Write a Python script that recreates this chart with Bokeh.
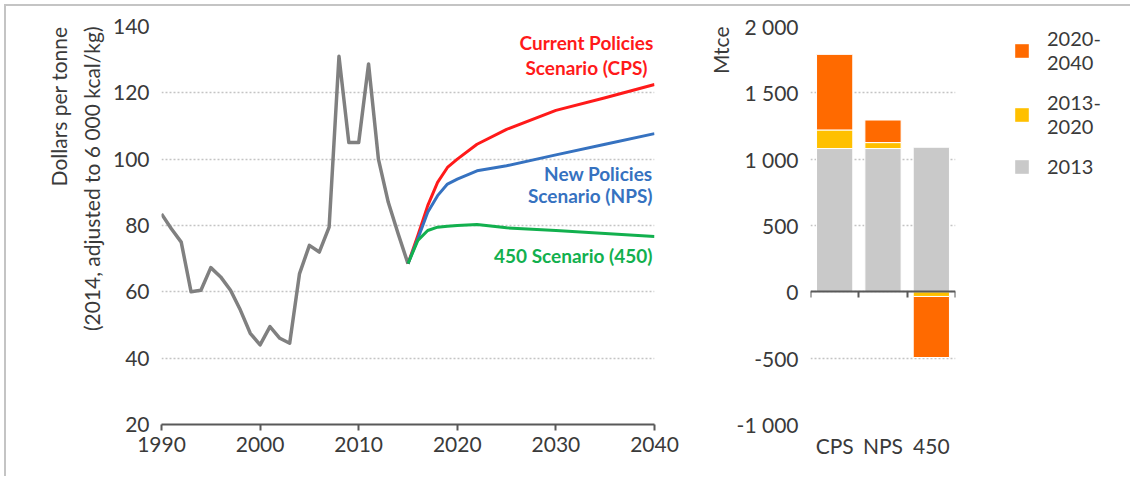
from bokeh.plotting import figure
from bokeh.models import Range1d, FixedTicker, LinearAxis, Label, Legend, LegendItem, ColumnDataSource, Title
from bokeh.layouts import row
from bokeh.embed import file_html
from bokeh.resources import INLINE

# ---------------- data ----------------
hist_years = list(range(1990, 2016))
hist_price = [83.5, 79, 75, 60, 60.5, 67.3, 64.5, 60.5, 54.5, 47.5, 44, 49.5, 46, 44.5,
              65.5, 74, 72, 79.5, 131, 105, 105, 128.7, 100, 87, 77.5, 68.5]

scen_years = [2015, 2016, 2017, 2018, 2019, 2020, 2022, 2025, 2030, 2035, 2040]
cps_price = [68.5, 77, 86, 93, 97.5, 100, 104.5, 109, 114.7, 118.5, 122.5]
nps_price = [68.5, 76, 84, 89, 92.5, 94, 96.5, 98, 101.3, 104.5, 107.7]
s450_price = [68.5, 75.5, 78.5, 79.5, 79.8, 80, 80.3, 79.3, 78.5, 77.6, 76.7]

x_ticks_left = [1990, 2000, 2010, 2020, 2030, 2040]
y_ticks_left = [20, 40, 60, 80, 100, 120, 140]
y_title_left = ["Dollars per tonne", "(2014, adjusted to 6 000 kcal/kg)"]

bar_cats = ["CPS", "NPS", "450"]
demand_2013 = [1080, 1080, 1090]
chg_2013_2020 = [140, 45, -35]
chg_2020_2040 = [570, 170, -460]

y_ticks_right = [-1000, -500, 0, 500, 1000, 1500, 2000]
y_tick_labels_right = ["-1 000", "-500", "0", "500", "1 000", "1 500", "2 000"]
y_title_right = "Mtce"

legend_labels = ["2020-\n2040", "2013-\n2020", "2013"]

FONT = "Lato"
TXT = "#3a3a3a"
AXIS = "#595959"
GRID = "#c4c4c4"
C_GRAY_LINE = "#808080"
C_CPS = "#ff1a1a"
C_NPS = "#3672c0"
C_450 = "#12b04e"
C_OR = "#ff6a00"
C_YE = "#ffc000"
C_GR = "#c9c9c9"
TICK_SIZE = "21px"
OFF = 6  # offset of the content caused by the framing border


def side_title(p, text, standoff):
    p.add_layout(Title(text=text, align="right", text_font=FONT, text_font_size="21px",
                       text_font_style="normal", text_color=TXT, standoff=standoff), "left")


# ---------------- left chart ----------------
p1 = figure(width=700 - OFF, height=470, x_range=Range1d(1990, 2040), y_range=Range1d(20, 140),
            output_backend="svg", toolbar_location=None,
            min_border_left=161 - OFF, min_border_right=46, min_border_top=26 - OFF,
            min_border_bottom=470 - (424 - OFF) - 0)
p1.outline_line_color = None
p1.xgrid.grid_line_color = None
p1.ygrid.grid_line_color = GRID
p1.ygrid.grid_line_dash = "2 2"
p1.ygrid.grid_line_width = 1.5
p1.xaxis.ticker = FixedTicker(ticks=x_ticks_left)
p1.yaxis.ticker = FixedTicker(ticks=y_ticks_left)
for ax in (p1.xaxis[0], p1.yaxis[0]):
    ax.major_label_text_font = FONT
    ax.major_label_text_font_size = TICK_SIZE
    ax.major_label_text_color = TXT
    ax.minor_tick_line_color = None
p1.yaxis.axis_line_color = None
p1.yaxis.major_tick_line_color = None
p1.yaxis.major_tick_out = 0
p1.yaxis.major_label_standoff = 12
p1.xaxis.axis_line_color = AXIS
p1.xaxis.axis_line_width = 2
p1.xaxis.major_tick_line_color = AXIS
p1.xaxis.major_tick_line_width = 2
p1.xaxis.major_tick_out = 6
p1.xaxis.major_tick_in = 0
p1.xaxis.major_label_standoff = 6
side_title(p1, y_title_left[1], 12)
side_title(p1, y_title_left[0], 0)

p1.line(hist_years, hist_price, line_color=C_GRAY_LINE, line_width=3.5, line_join="round")
p1.line(scen_years, cps_price, line_color=C_CPS, line_width=3, line_join="round")
p1.line(scen_years, nps_price, line_color=C_NPS, line_width=3, line_join="round")
p1.line(scen_years, s450_price, line_color=C_450, line_width=3, line_join="round")


def lab(p, x, y, text, color, align):
    p.add_layout(Label(x=x, y=y, text=text, text_color=color, text_align=align,
                       text_baseline="middle", text_font=FONT, text_font_size="19px",
                       text_font_style="bold"))


lab(p1, 2033.1, 135.2, "Current Policies", C_CPS, "center")
lab(p1, 2033.1, 127.6, "Scenario (CPS)", C_CPS, "center")
lab(p1, 2039.8, 95.7, "New Policies", C_NPS, "right")
lab(p1, 2039.8, 89.0, "Scenario (NPS)", C_NPS, "right")
lab(p1, 2039.8, 71.0, "450 Scenario (450)", C_450, "right")

# ---------------- right chart ----------------
p2 = figure(width=267, height=470, x_range=Range1d(0, 3), y_range=Range1d(-1000, 2000),
            output_backend="svg", toolbar_location=None,
            min_border_left=110, min_border_right=12, min_border_top=26 - OFF,
            min_border_bottom=470 - (424 - OFF))
p2.outline_line_color = None
p2.xgrid.grid_line_color = None
p2.ygrid.grid_line_color = GRID
p2.ygrid.grid_line_dash = "2 2"
p2.ygrid.grid_line_width = 1.5
p2.yaxis.ticker = FixedTicker(ticks=y_ticks_right)
p2.yaxis.major_label_overrides = {t: l for t, l in zip(y_ticks_right, y_tick_labels_right)}
p2.yaxis.axis_line_color = None
p2.yaxis.major_tick_line_color = None
p2.yaxis.minor_tick_line_color = None
p2.yaxis.major_tick_out = 0
p2.yaxis.major_label_standoff = 12
p2.yaxis.major_label_text_font = FONT
p2.yaxis.major_label_text_font_size = TICK_SIZE
p2.yaxis.major_label_text_color = TXT
side_title(p2, y_title_right, 1)

# zero line axis with category-boundary ticks
zax = p2.xaxis[0]
zax.fixed_location = 0
zax.ticker = FixedTicker(ticks=[0, 1, 2, 3])
zax.major_label_overrides = {0: "", 1: "", 2: "", 3: ""}
zax.axis_line_color = AXIS
zax.axis_line_width = 2
zax.major_tick_line_color = AXIS
zax.major_tick_line_width = 2
zax.major_tick_out = 6
zax.major_tick_in = 0
zax.minor_tick_line_color = None

cat_x = [i + 0.5 for i in range(len(bar_cats))]
cax = LinearAxis(ticker=FixedTicker(ticks=cat_x),
                 major_label_overrides={x: c for x, c in zip(cat_x, bar_cats)})
cax.axis_line_color = None
cax.major_tick_line_color = None
cax.minor_tick_line_color = None
cax.major_label_text_font = FONT
cax.major_label_text_font_size = TICK_SIZE
cax.major_label_text_color = TXT
cax.major_label_standoff = 2
p2.add_layout(cax, "below")

# stacked bars (positive deltas stack upward on 2013, negative stack downward from 0)
gr_bot, gr_top, ye_bot, ye_top, or_bot, or_top = [], [], [], [], [], []
for base, d1, d2 in zip(demand_2013, chg_2013_2020, chg_2020_2040):
    gr_bot.append(0); gr_top.append(base)
    pos, neg = base, 0
    for d, b, t in ((d1, ye_bot, ye_top), (d2, or_bot, or_top)):
        if d >= 0:
            b.append(pos); t.append(pos + d); pos += d
        else:
            b.append(neg); t.append(neg + d); neg += d

for bots, tops, col in ((gr_bot, gr_top, C_GR), (ye_bot, ye_top, C_YE), (or_bot, or_top, C_OR)):
    p2.vbar(x=cat_x, width=0.75, bottom=bots, top=tops, fill_color=col, line_color="white", line_width=1)

# ---------------- legend panel ----------------
p3 = figure(width=163, height=470, x_range=Range1d(0, 1), y_range=Range1d(0, 1),
            output_backend="svg", toolbar_location=None,
            min_border_left=46, min_border_right=0, min_border_top=18 - OFF, min_border_bottom=0)
p3.axis.visible = False
p3.grid.grid_line_color = None
p3.outline_line_color = None
items = []
nan = float("nan")
for lbl, col in zip(legend_labels, [C_OR, C_YE, C_GR]):
    src = ColumnDataSource(data=dict(x=[nan], top=[nan]))
    r = p3.vbar(x="x", top="top", width=0.5, source=src, fill_color=col, line_color=None)
    items.append(LegendItem(label=lbl, renderers=[r]))
legend = Legend(items=items, location="top_left", margin=0, padding=0, spacing=16,
                glyph_width=17, glyph_height=17, label_standoff=17,
                label_text_font=FONT, label_text_font_size="20px", label_text_color=TXT,
                border_line_color=None, background_fill_alpha=0)
p3.add_layout(legend)

layout = row(p1, p2, p3, styles={"border-top": "2px solid #c4c4c4",
                                  "border-left": "2px solid #c4c4c4",
                                  "margin": "4px 0 0 4px"})
open("out.html", "w").write(file_html(layout, INLINE))
